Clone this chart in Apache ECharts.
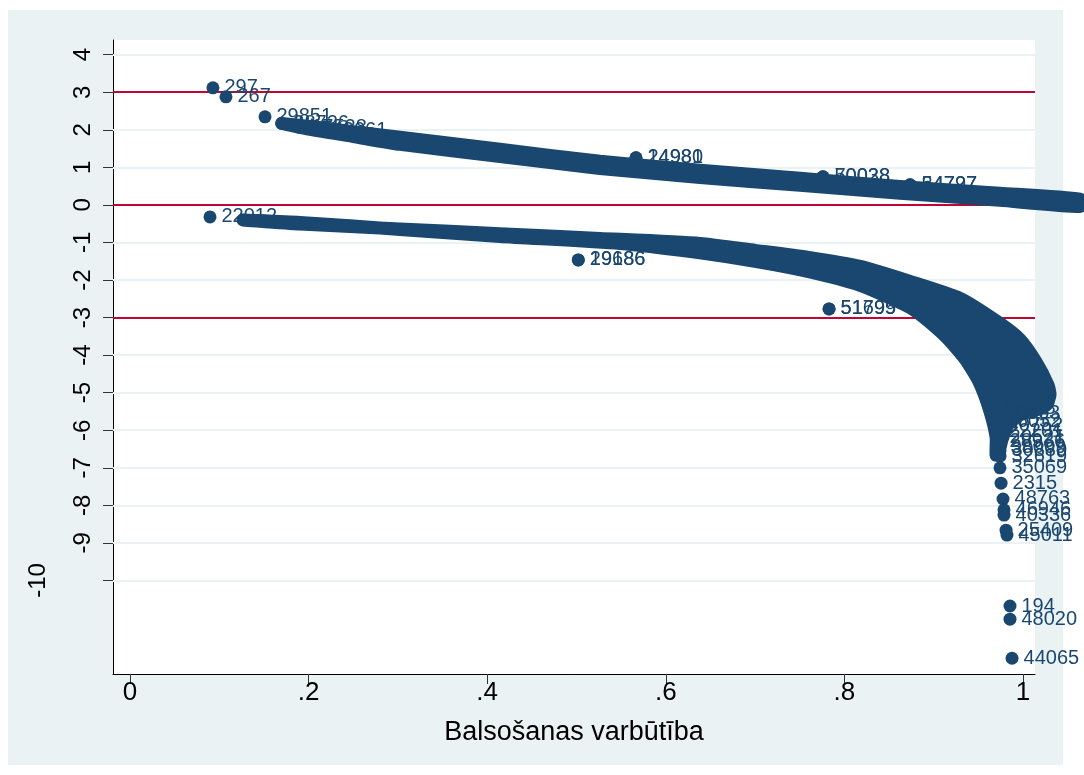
<!DOCTYPE html>
<html>
<head>
<meta charset="utf-8">
<script src="https://cdn.jsdelivr.net/npm/echarts@6/dist/echarts.min.js"></script>
<style>
html,body{margin:0;padding:0;background:#fff;}
#chart{width:1084px;height:775px;}
</style>
</head>
<body>
<div id="chart"></div>
<script>
// ---- data ----
var xTickValues = [0, 0.2, 0.4, 0.6, 0.8, 1];
var xTickLabels = ['0', '.2', '.4', '.6', '.8', '1'];
var yTickValues = [4, 3, 2, 1, 0, -1, -2, -3, -4, -5, -6, -7, -8, -9, -10];
var yTickLabels = ['4', '3', '2', '1', '0', '-1', '-2', '-3', '-4', '-5', '-6', '-7', '-8', '-9', '-10'];
var refLines = [3, 0, -3];

// dense cloud of points for observed = 1 (upper band): top and bottom edges of the cloud
var upperTop = [[0.170,2.17],[0.2016,2.09],[0.2500,1.95],[0.3023,1.80],[0.4143,1.48],[0.5263,1.16],[0.6383,0.92],[0.7503,0.71],[0.8623,0.49],[0.9742,0.31],[1.0638,0.15]];
var upperBottom = [[0.170,2.17],[0.2016,2.01],[0.2500,1.82],[0.3023,1.61],[0.4143,1.29],[0.5263,0.97],[0.6383,0.73],[0.7503,0.52],[0.8623,0.31],[0.9742,0.12],[1.0638,-0.04]];

// dense cloud for observed = 0 (lower band): outline along the top, round the tail, and back along the bottom
var lowerTop = [[0.1265,-0.40],[0.1904,-0.511],[0.3023,-0.639],[0.4143,-0.767],[0.5263,-0.892],[0.6383,-1.026],[0.6999,-1.212],[0.7600,-1.40],[0.8175,-1.638],[0.8735,-2.038],[0.9295,-2.491],[0.9742,-3.157],[0.9966,-3.583],[1.0146,-4.18],[1.028,-4.795],[1.0302,-5.06],[1.026,-5.33],[1.0146,-5.46],[0.9966,-5.59],[0.983,-5.86],[0.9765,-6.25],[0.9720,-6.66]];
var lowerBottom = [[0.1265,-0.40],[0.1904,-0.466],[0.3023,-0.653],[0.4143,-0.839],[0.5487,-1.026],[0.6300,-1.25],[0.6999,-1.505],[0.7600,-1.78],[0.8175,-2.144],[0.8768,-2.78],[0.9127,-3.49],[0.9350,-4.10],[0.9507,-4.715],[0.9625,-5.46],[0.9698,-6.18],[0.9698,-6.66]];

// individually labelled observations
var labelledBehind = [
  [0.0929, 3.117, '297'], [0.1075, 2.877, '267'], [0.1512, 2.344, '29851'],
  [0.170, 2.171, '38726'], [0.190, 2.06, '17528'], [0.213, 1.98, '42061'],
  [0.5666, 1.252, '24980'], [0.5666, 1.252, '14981'],
  [0.776, 0.746, '50028'], [0.776, 0.746, '70038'],
  [0.8735, 0.533, '54797'], [0.8735, 0.533, '34727'],
  [0.0896, -0.32, '22012'],
  [0.502, -1.465, '29686'], [0.502, -1.465, '19186'],
  [0.7828, -2.77, '51695'], [0.7828, -2.77, '51799']
];
var labelledFront = [
  [0.9631, -5.43, '11968'], [0.9664, -5.56, '18863'], [0.9675, -5.78, '46052'],
  [0.9698, -5.88, '40752'], [0.9698, -6.04, '22201'], [0.9720, -6.18, '20521'],
  [0.9720, -6.31, '28936'], [0.9731, -6.45, '38009'], [0.9742, -6.55, '30880'],
  [0.9742, -6.69, '32619'],
  [0.9742, -7.00, '35069'], [0.9754, -7.41, '2315'], [0.9776, -7.83, '48763'],
  [0.9787, -8.12, '46946'], [0.9787, -8.26, '40336'], [0.9810, -8.66, '25409'],
  [0.9820, -8.79, '45011'], [0.9854, -10.68, '194'], [0.9854, -11.03, '48020'],
  [0.9877, -12.07, '44065']
];

var NAVY = '#1A476F';
var RED = '#C10534';
var BG = '#EAF2F3';
var FONT = 'Liberation Sans, Arial, sans-serif';

function bandItem(top, bottom) {
  return function (params, api) {
    if (params.dataIndex !== 0) return null;
    var pts = top.concat(bottom.slice().reverse()).map(function (p) { return api.coord(p); });
    return {
      type: 'polygon',
      shape: { points: pts, smooth: 0.2 },
      style: { fill: NAVY, stroke: NAVY, lineWidth: 13, lineJoin: 'round' }
    };
  };
}

function labelled(list, z) {
  return {
    type: 'scatter',
    z: z,
    symbol: 'circle',
    symbolSize: 13,
    itemStyle: { color: NAVY, opacity: 1 },
    emphasis: { disabled: true },
    data: list.map(function (d) { return { value: [d[0], d[1]], name: d[2] }; }),
    label: {
      show: true, position: 'right', distance: 5,
      formatter: function (p) { return p.name; },
      color: NAVY, fontFamily: FONT, fontSize: 20
    },
    labelLayout: { hideOverlap: false },
    clip: false
  };
}

var chart = echarts.init(document.getElementById('chart'), null, { renderer: 'canvas' });
var option = {
  backgroundColor: '#ffffff',
  animation: false,
  graphic: [{
    type: 'rect', z: -100, silent: true,
    shape: { x: 8, y: 10, width: 1055, height: 755 },
    style: { fill: BG }
  }],
  grid: { left: 113, right: 49, top: 40, bottom: 101, show: true, backgroundColor: '#ffffff', borderWidth: 0 },
  xAxis: {
    type: 'value', min: -0.019, max: 1.0134,
    name: 'Balsošanas varbūtība', nameLocation: 'middle', nameGap: 45,
    nameTextStyle: { fontFamily: FONT, fontSize: 27, color: '#000' },
    axisLine: { show: true, onZero: false, lineStyle: { color: '#000', width: 1 } },
    axisTick: { show: true, length: 10, customValues: xTickValues, lineStyle: { color: '#333' } },
    axisLabel: {
      customValues: xTickValues, margin: 6,
      fontFamily: FONT, fontSize: 26, color: '#000',
      formatter: function (v) { var i = xTickValues.indexOf(v); return i >= 0 ? xTickLabels[i] : ''; }
    },
    splitLine: { show: false }
  },
  yAxis: [{
    type: 'value', min: -12.49, max: 4.39,
    axisLine: { show: true, onZero: false, lineStyle: { color: '#000', width: 1 } },
    axisTick: { show: true, length: 10, customValues: yTickValues, lineStyle: { color: '#333' } },
    axisLabel: {
      customValues: yTickValues.slice(0, yTickValues.length - 1), rotate: 90, margin: 18,
      fontFamily: FONT, fontSize: 24, color: '#000',
      formatter: function (v) { var i = yTickValues.indexOf(v); return i >= 0 ? yTickLabels[i] : ''; }
    },
    splitLine: { show: false }
  }, {
    type: 'value', min: -12.49, max: 4.39, position: 'left',
    axisLine: { show: false }, axisTick: { show: false }, splitLine: { show: false },
    axisLabel: {
      customValues: [yTickValues[yTickValues.length - 1]], rotate: 90, margin: 63,
      fontFamily: FONT, fontSize: 24, color: '#000',
      formatter: function (v) { var i = yTickValues.indexOf(v); return i >= 0 ? yTickLabels[i] : ''; }
    }
  }],
  series: [
    {
      type: 'scatter', data: [], z: 1, silent: true,
      markLine: {
        z: 1, silent: true, symbol: ['none', 'none'], label: { show: false },
        lineStyle: { color: BG, width: 2, type: 'solid' },
        emphasis: { disabled: true },
        data: yTickValues.map(function (v) { return { yAxis: v }; })
      }
    },
    {
      type: 'scatter', data: [], z: 1, silent: true,
      markLine: {
        z: 1.5, silent: true, symbol: ['none', 'none'], label: { show: false },
        lineStyle: { color: RED, width: 2, type: 'solid' },
        emphasis: { disabled: true },
        data: refLines.map(function (v) { return { yAxis: v }; })
      }
    },
    labelled(labelledBehind, 2),
    {
      type: 'custom', z: 3, clip: false, silent: true,
      renderItem: bandItem(upperTop, upperBottom),
      data: upperTop.concat(upperBottom), encode: { x: 0, y: 1 }
    },
    {
      type: 'custom', z: 3, clip: false, silent: true,
      renderItem: bandItem(lowerTop, lowerBottom),
      data: lowerTop.concat(lowerBottom), encode: { x: 0, y: 1 }
    },
    labelled(labelledFront, 4)
  ]
};
chart.setOption(option);
</script>
</body>
</html>
